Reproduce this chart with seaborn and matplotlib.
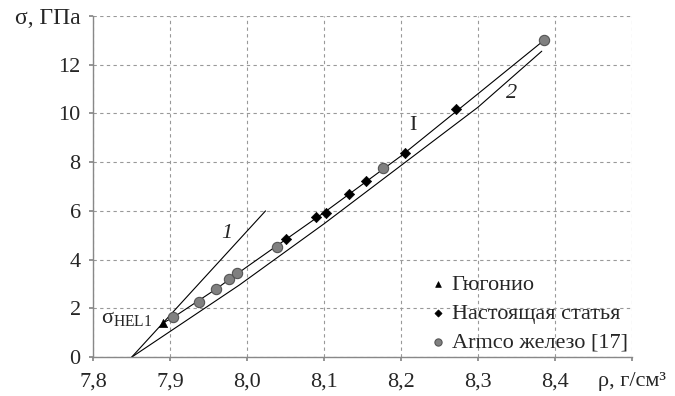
import matplotlib
matplotlib.use("Agg")
import matplotlib.pyplot as plt
import seaborn as sns

# Data
hug_x = [7.891]
hug_y = [1.41]
paper_x = [8.051, 8.090, 8.102, 8.132, 8.155, 8.205, 8.271]
paper_y = [4.83, 5.76, 5.93, 6.69, 7.23, 8.37, 10.17]
armco_x = [7.904, 7.937, 7.959, 7.977, 7.987, 8.039, 8.177, 8.386]
armco_y = [1.63, 2.27, 2.78, 3.19, 3.44, 4.53, 7.75, 13.0]

line1_x = [7.85, 8.024]
line1_y = [0.0, 6.0]
line2_x = [7.85, 7.99, 8.1, 8.2, 8.3, 8.383]
line2_y = [0.0, 2.96, 5.47, 7.86, 10.25, 12.55]
lineI_x = [7.891, 7.904, 7.959, 8.0, 8.1, 8.2, 8.3, 8.386]
lineI_y = [1.41, 1.63, 2.78, 3.71, 5.93, 8.25, 10.8, 13.0]

xticks = [7.8, 7.9, 8.0, 8.1, 8.2, 8.3, 8.4, 8.5]
xlabels = ["7,8", "7,9", "8,0", "8,1", "8,2", "8,3", "8,4", "ρ, г/см³"]
yticks = [0, 2, 4, 6, 8, 10, 12, 14]
ylabels = ["0", "2", "4", "6", "8", "10", "12", "σ, ГПа"]

sns.set_theme(style="white")
plt.rcParams['font.family'] = ['Liberation Serif', 'DejaVu Serif']
plt.rcParams['mathtext.fontset'] = 'custom'
plt.rcParams['mathtext.rm'] = 'Liberation Serif'
plt.rcParams['mathtext.it'] = 'Liberation Serif:italic'
plt.rcParams['mathtext.default'] = 'rm'

fig = plt.figure(figsize=(6.75, 3.96), dpi=100)
ax = fig.add_axes([0.138, 0.098, 0.798, 0.862])

lw = 0.8
sns.lineplot(x=line1_x, y=line1_y, ax=ax, color='black', lw=lw, sort=False)
sns.lineplot(x=line2_x, y=line2_y, ax=ax, color='black', lw=lw, sort=False)
sns.lineplot(x=lineI_x, y=lineI_y, ax=ax, color='black', lw=lw, sort=False)

sns.scatterplot(x=hug_x, y=hug_y, ax=ax, marker='^', color='black', s=35,
                edgecolor='black', label='Гюгонио', zorder=5)
sns.scatterplot(x=paper_x, y=paper_y, ax=ax, marker='D', color='black', s=28,
                edgecolor='black', label='Настоящая статья', zorder=5)
sns.scatterplot(x=armco_x, y=armco_y, ax=ax, marker='o', color='#808080', s=55,
                edgecolor='#555555', linewidth=0.8, label='Armco железо [17]', zorder=5)

ax.set_xlim(7.8, 8.5)
ax.set_ylim(0, 14)
ax.set_xticks(xticks)
ax.set_xticklabels(xlabels)
ax.set_yticks(yticks)
ax.set_yticklabels(ylabels)
ax.tick_params(axis='both', labelsize=16, length=3, color='#888888',
               direction='out', left=True, bottom=True)
ax.tick_params(axis='x', pad=8)
ax.tick_params(axis='y', pad=6)
ax.get_yticklabels()[-1].set_fontsize(17)
ax.grid(True, linestyle=(0, (3, 3)), color='#999999', lw=0.8)
for s in ['top', 'right']:
    ax.spines[s].set_visible(False)
for s in ['left', 'bottom']:
    ax.spines[s].set_color('#888888')
    ax.spines[s].set_linewidth(1.0)

ax.text(7.973, 5.08, '1', fontsize=16, style='italic', ha='center', va='center')
ax.text(8.344, 10.83, '2', fontsize=16, style='italic', ha='center', va='center')
ax.text(8.215, 9.49, 'I', fontsize=16, ha='center', va='center')
ax.text(7.877, 1.6, r'σ$_{\mathrm{HEL1}}$', fontsize=16, ha='right', va='center')

leg = ax.legend(loc='lower right', bbox_to_anchor=(1.013, -0.02), frameon=False,
                fontsize=16, handletextpad=0.1, labelspacing=0.38,
                markerscale=0.7, borderaxespad=0.1, handlelength=1.0)

fig.savefig('out.png', dpi=100)
